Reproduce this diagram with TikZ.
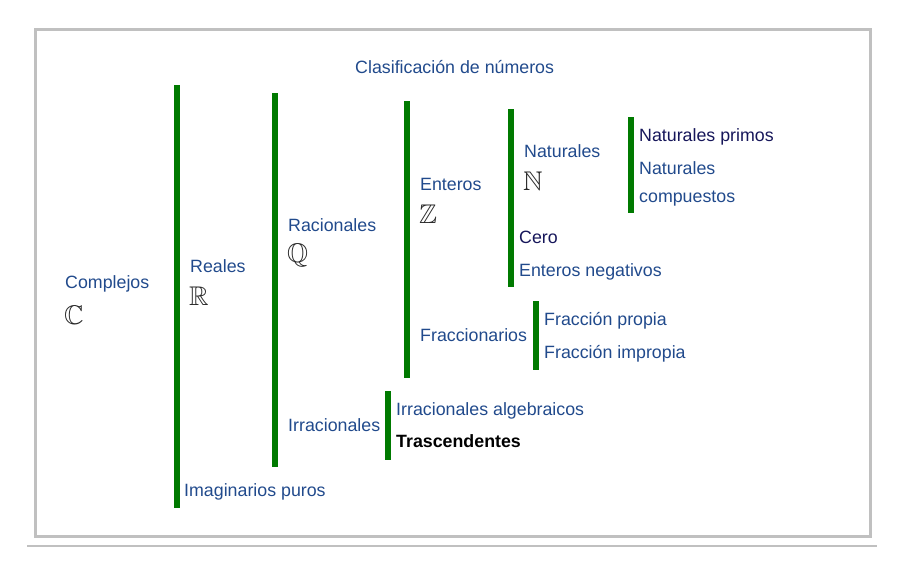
\documentclass[tikz,border=0pt]{standalone}
\usepackage{amssymb}
\usepackage{fontspec}
\setmainfont{Liberation Sans}
\definecolor{blu}{RGB}{33,74,140}
\definecolor{navy}{RGB}{22,22,90}
\definecolor{grn}{RGB}{0,122,0}
\definecolor{frm}{RGB}{192,192,192}
\definecolor{bbgray}{RGB}{40,40,40}
\begin{document}
\begin{tikzpicture}[x=1pt,y=-1pt,
  lbl/.style={anchor=base west, inner sep=0pt, text=blu, font=\fontsize{17.8}{20}\selectfont},
  nav/.style={lbl, text=navy},
  bb/.style={anchor=base west, inner sep=0pt, text=bbgray, font=\fontsize{27}{27}\selectfont},
  barfill/.style={fill=grn, draw=none},
  frame/.style={draw=frm, line width=3pt}]
\useasboundingbox (0,0) rectangle (900,562);
\draw[frame] (35.5,29.5) rectangle (870,536.5);
\draw[draw=frm, line width=2pt] (27,546) -- (877,546);
% bars
\fill[barfill] (174,85) rectangle (180,508);
\fill[barfill] (272,93) rectangle (278,467);
\fill[barfill] (404,101) rectangle (410,378);
\fill[barfill] (508,109) rectangle (514,287);
\fill[barfill] (628,117) rectangle (634,213);
\fill[barfill] (533,301) rectangle (539,370);
\fill[barfill] (385,391) rectangle (391,460);
% labels
\node[lbl] (title) at (355,73) {Clasificación de números};
\node[lbl] (compl) at (65,288) {Complejos};
\node[bb] (C) at (64,324) {$\mathbb{C}$};
\node[lbl] (real) at (190,272) {Reales};
\node[bb] (R) at (189,305) {$\mathbb{R}$};
\node[lbl] (rac) at (288,231) {Racionales};
\node[bb] (Q) at (287,262) {$\mathbb{Q}$};
\node[lbl] (ent) at (420,190) {Enteros};
\node[bb] (Z) at (419,223) {$\mathbb{Z}$};
\node[lbl] (nat) at (524,157) {Naturales};
\node[bb] (N) at (523,190) {$\mathbb{N}$};
\node[nav] (prim) at (639,141) {Naturales primos};
\node[lbl] (comp1) at (639,174) {Naturales};
\node[lbl] (comp2) at (639,202) {compuestos};
\node[nav] (cero) at (519,243) {Cero};
\node[lbl] (neg) at (519,276) {Enteros negativos};
\node[lbl] (frac) at (420,341) {Fraccionarios};
\node[lbl] (prop) at (544,325) {Fracción propia};
\node[lbl] (impr) at (544,358) {Fracción impropia};
\node[lbl] (irr) at (288,431) {Irracionales};
\node[lbl] (alg) at (396,415) {Irracionales algebraicos};
\node[lbl, text=black, font=\fontsize{17.8}{20}\selectfont\bfseries] (tras) at (396,447) {Trascendentes};
\node[lbl] (imag) at (184,496) {Imaginarios puros};
\end{tikzpicture}
\end{document}
